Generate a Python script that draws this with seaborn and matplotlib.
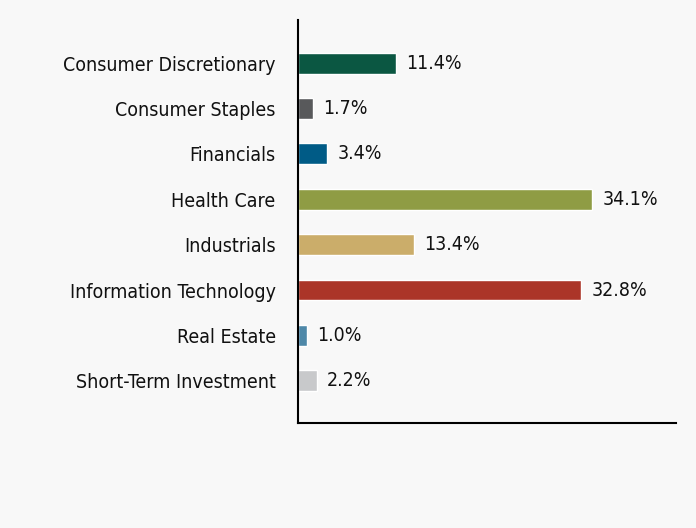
import matplotlib
matplotlib.use("Agg")
import matplotlib.pyplot as plt
import seaborn as sns
import pandas as pd

sectors = ["Consumer Discretionary", "Consumer Staples", "Financials", "Health Care",
           "Industrials", "Information Technology", "Real Estate", "Short-Term Investment"]
weights = [11.4, 1.7, 3.4, 34.1, 13.4, 32.8, 1.0, 2.2]
bar_colors = ["#0b5742", "#58595b", "#005b86", "#8f9c44", "#cbad6a", "#ab3528", "#4e88a8", "#c8c9cb"]

df = pd.DataFrame({"sector": sectors, "weight": weights})

sns.set_style("white")
plt.rcParams["font.family"] = ["DejaVu Sans"]
plt.rcParams["font.stretch"] = "condensed"

fig = plt.figure(figsize=(6.96, 5.28), dpi=100, facecolor="#f8f8f8")
ax = fig.add_axes([0.428, 0.199, 0.543, 0.763])
ax.set_facecolor("#f8f8f8")

sns.barplot(data=df, x="weight", y="sector", hue="sector", palette=bar_colors,
            width=0.46, legend=False, ax=ax, saturation=1)

for i, v in enumerate(weights):
    ax.text(v + 1.2, i, f"{v:.1f}%", va="center", ha="left", fontsize=14, color="#111111")

ax.set_xlim(0, 43.8)
ax.set_ylim(7.93, -0.95)
ax.set_xlabel("")
ax.set_ylabel("")
ax.set_xticks([])
ax.tick_params(axis="y", length=0, pad=16, labelsize=14, labelcolor="#111111")
for s in ["top", "right"]:
    ax.spines[s].set_visible(False)
for s in ["left", "bottom"]:
    ax.spines[s].set_color("black")
    ax.spines[s].set_linewidth(1.5)

fig.savefig("out.png", dpi=100, facecolor=fig.get_facecolor())
